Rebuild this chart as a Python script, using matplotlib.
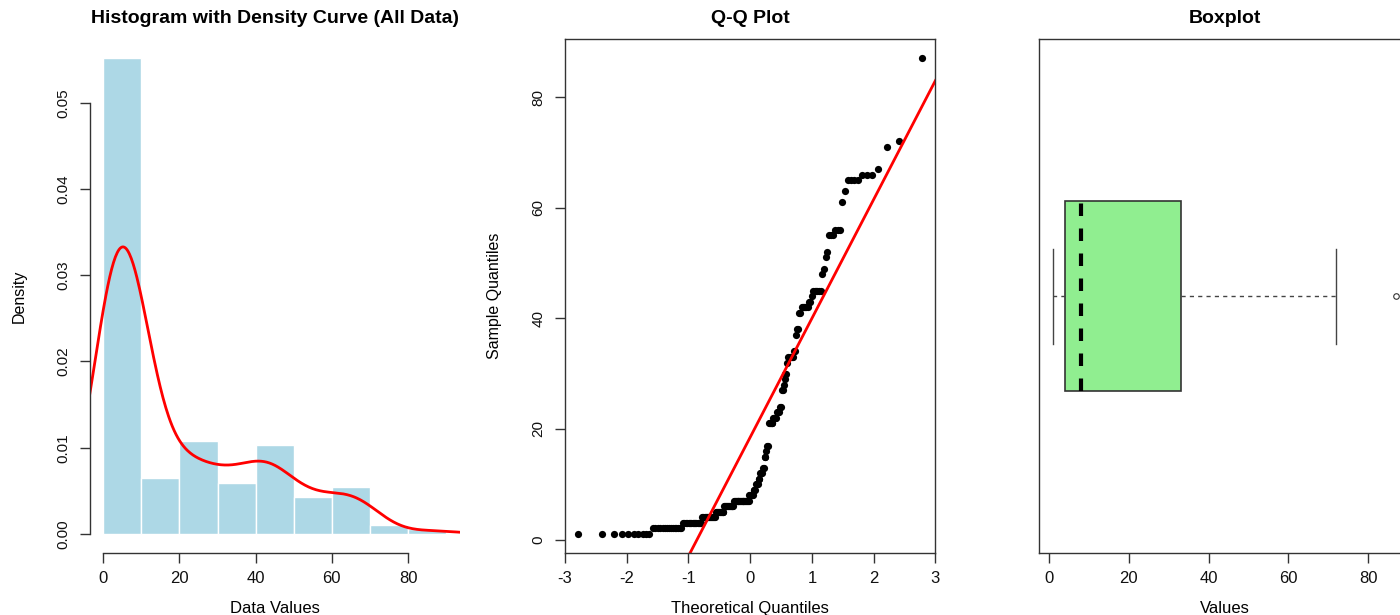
import matplotlib
matplotlib.use("Agg")
import matplotlib.pyplot as plt
import numpy as np
import pandas as pd
from statistics import NormalDist

values = [1, 2, 3, 4, 5, 6, 7, 8, 9, 10, 11, 12, 13, 15, 16, 17,
          21, 22, 23, 24, 27, 28, 29, 30, 32, 33, 34, 37, 38,
          41, 42, 43, 44, 45, 48, 49, 51, 52, 55, 56,
          61, 63, 65, 66, 67, 71, 72, 87]
counts = [10, 15, 15, 13, 9, 11, 18, 5, 3, 3, 2, 3, 2, 2, 1, 2,
          5, 4, 3, 2, 2, 1, 1, 2, 1, 5, 2, 1, 2,
          2, 6, 2, 1, 6, 1, 1, 1, 1, 3, 3,
          1, 1, 4, 3, 1, 1, 1, 1]
bin_edges = [0, 10, 20, 30, 40, 50, 60, 70, 80, 90]

data = np.repeat(values, counts).astype(float)
n = len(data)

plt.rcParams['font.family'] = ['Liberation Sans', 'DejaVu Sans']
plt.rcParams['axes.unicode_minus'] = False

W, H = 1400, 615
fig = plt.figure(figsize=(W / 100, H / 100), dpi=100)

top_px, bot_px = 39.4, 553.0


def make_ax(left_px, width_px):
    return fig.add_axes([left_px / W, 1 - bot_px / H, width_px / W, (bot_px - top_px) / H])


axcol = '#333333'


def style(ax, box=True):
    for s in ax.spines.values():
        s.set_color(axcol)
        s.set_linewidth(1.0)
        s.set_visible(box)
    ax.tick_params(direction='out', length=7, width=1, color=axcol,
                   labelsize=12, pad=6, labelcolor='#111111')
    ax.tick_params(axis='y', labelsize=11, pad=7)


# ---- histogram + density ----
ax1 = make_ax(89.5, 370.4)
style(ax1, box=False)
cats = pd.cut(data, bin_edges, right=True)
hist_counts = pd.Series(cats).value_counts(sort=False).values
dens = hist_counts / (n * 10.0)
ax1.bar(bin_edges[:-1], dens, width=10, align='edge', color='#ADD8E6',
        edgecolor='white', linewidth=1)

# gaussian KDE like R density() with bw.nrd0
q1, q3 = np.quantile(data, [0.25, 0.75])
bw = 0.9 * min(data.std(ddof=1), (q3 - q1) / 1.34) * n ** -0.2
xs = np.linspace(data.min() - 3 * bw, data.max() + 3 * bw, 512)
kde = np.exp(-0.5 * ((xs[:, None] - data[None, :]) / bw) ** 2).sum(axis=1) / (n * bw * np.sqrt(2 * np.pi))
ax1.plot(xs, kde, color='red', lw=2)

ax1.set_xlim(-3.6, 93.6)
ymax = dens.max()
ax1.set_ylim(-0.04 * ymax, 1.04 * ymax)
ax1.spines['left'].set_visible(True)
ax1.spines['bottom'].set_visible(True)
ax1.spines['left'].set_bounds(0, 0.05)
ax1.spines['bottom'].set_bounds(0, 80)
ax1.set_xticks([0, 20, 40, 60, 80])
ax1.set_yticks([0, 0.01, 0.02, 0.03, 0.04, 0.05])
ax1.set_yticklabels(['0.00', '0.01', '0.02', '0.03', '0.04', '0.05'])
plt.setp(ax1.get_yticklabels(), rotation=90, va='center')
ax1.set_title('Histogram with Density Curve (All Data)', fontsize=14, fontweight='bold', pad=12)
ax1.set_xlabel('Data Values', fontsize=12, labelpad=11)
ax1.set_ylabel('Density', fontsize=11.5, labelpad=21)

# ---- Q-Q plot ----
ax2 = make_ax(565, 370.4)
style(ax2)
nd = NormalDist()
probs = (np.arange(1, n + 1) - 0.5) / n
theo = np.array([nd.inv_cdf(p) for p in probs])
samp = np.sort(data)
ax2.plot(theo, samp, 'o', color='black', markersize=5.2, markeredgewidth=0)
slope = (q3 - q1) / (nd.inv_cdf(0.75) - nd.inv_cdf(0.25))
icpt = q1 - slope * nd.inv_cdf(0.25)
ax2.axline((0, icpt), slope=slope, color='red', lw=2)
ax2.set_xlim(-3, 3)
rng = data.max() - data.min()
ax2.set_ylim(data.min() - 0.04 * rng, data.max() + 0.04 * rng)
ax2.set_xticks(range(-3, 4))
ax2.set_yticks([0, 20, 40, 60, 80])
plt.setp(ax2.get_yticklabels(), rotation=90, va='center')
ax2.set_title('Q-Q Plot', fontsize=14, fontweight='bold', pad=12)
ax2.set_xlabel('Theoretical Quantiles', fontsize=12, labelpad=11)
ax2.set_ylabel('Sample Quantiles', fontsize=11.5, labelpad=21)

# ---- Boxplot ----
ax3 = make_ax(1039.3, 370.4)
style(ax3)
ax3.boxplot(data, vert=False, widths=0.4, positions=[1], patch_artist=True,
            boxprops=dict(facecolor='#90EE90', edgecolor='#333333', linewidth=1.2),
            whiskerprops=dict(color='#444444', linestyle=(0, (3, 3)), linewidth=1),
            capprops=dict(color='#444444', linewidth=1),
            medianprops=dict(color='black', linestyle=(0, (3, 3)), linewidth=3),
            flierprops=dict(marker='o', markerfacecolor='none', markeredgecolor='#333333',
                            markersize=4, markeredgewidth=0.8))
ax3.set_ylim(0.46, 1.54)
ax3.set_xlim(data.min() - 0.04 * rng, data.max() + 0.04 * rng)
ax3.set_xticks([0, 20, 40, 60, 80])
ax3.set_yticks([])
ax3.set_title('Boxplot', fontsize=14, fontweight='bold', pad=12)
ax3.set_xlabel('Values', fontsize=12, labelpad=11)

fig.savefig('out.png', dpi=100)
